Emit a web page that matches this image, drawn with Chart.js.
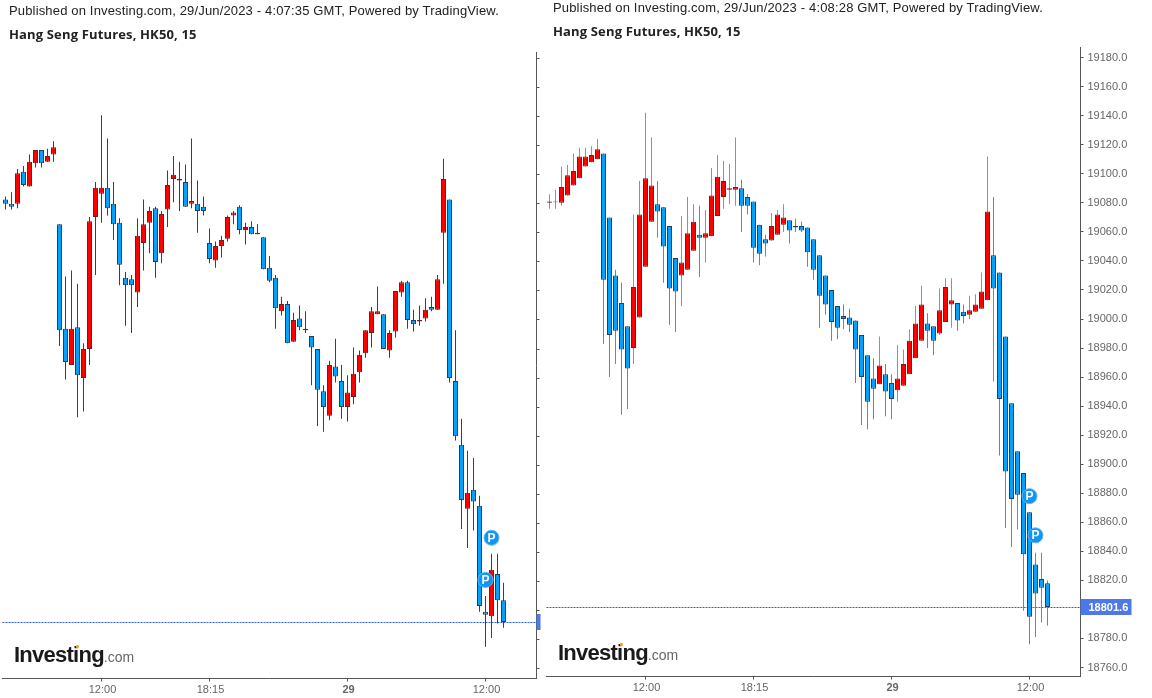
<!DOCTYPE html>
<html><head><meta charset="utf-8">
<style>
html,body{margin:0;padding:0;background:#fff;width:1152px;height:698px;overflow:hidden}
canvas{position:absolute;top:0}
.pub{position:absolute;top:3px;font:13px/16px "Liberation Sans",Arial,sans-serif;color:#222;white-space:nowrap;letter-spacing:.16px}
.ttl{position:absolute;font:bold 13px/18px "Open Sans",sans-serif;color:#222;white-space:nowrap;letter-spacing:.15px}
.logo{position:absolute;font:bold 22px/24px "Liberation Sans",Arial,sans-serif;color:#1a1a1a;letter-spacing:-.75px;white-space:nowrap}
.logo span{font:14px/24px "Liberation Sans",Arial,sans-serif;color:#666;letter-spacing:0}
.dot{position:absolute;width:3px;height:3px;background:#f5a623;border-radius:1px}
</style></head><body>
<canvas id="left" width="545" height="698" style="left:0;width:545px;height:698px"></canvas>
<canvas id="right" width="607" height="698" style="left:545px;width:607px;height:698px"></canvas>
<div class="pub" style="left:9px">Published on Investing.com, 29/Jun/2023 - 4:07:35 GMT, Powered by TradingView.</div>
<div class="pub" style="left:553px;top:0">Published on Investing.com, 29/Jun/2023 - 4:08:28 GMT, Powered by TradingView.</div>
<div class="ttl" style="left:9px;top:25px">Hang Seng Futures, HK50, 15</div>
<div class="ttl" style="left:553px;top:22px">Hang Seng Futures, HK50, 15</div>
<div class="logo" style="left:14px;top:643px">Investing<span>.com</span></div><div class="dot" style="left:76px;top:645px"></div>
<div class="logo" style="left:558px;top:641px">Investing<span>.com</span></div><div class="dot" style="left:620px;top:643px"></div>
<script src="https://cdn.jsdelivr.net/npm/chart.js@4"></script>
<script>
const xLabelIndex=[16,34,57,80];
const xLabelText=['12:00','18:15','29','12:00'];
const slotCount=89;

const leftOpen=[19083,19080,19080,19102,19092,19108,19117,19109,19114,19066,18994,18969,18995,18960,18980,19071,19087,19091,19080,19067,19029,19028,19019,19053,19067,19077,19046,19076,19097,19096,19095,19080,19080,19078,19053,19041,19051,19056,19072,19078,19062,19064,19059,19057,19036,19029,19006,19011,18985,19001,18994,18989,18980,18951,18934,18968,18958,18940,18947,18964,18977,18991,19004,19004,18979,18992,19019,19026,19000,18999,19001,19009,19007,19060,19083,18958,18914,18870,18883,18872,18799,18796,18825,18807];
const leftHigh=[19085,19088,19104,19106,19114,19117,19117,19118,19123,19066,19030,19034,19025,18984,19071,19095,19141,19125,19095,19070,19033,19031,19070,19083,19078,19078,19075,19103,19113,19109,19107,19125,19096,19085,19063,19054,19058,19072,19075,19079,19067,19068,19066,19057,19044,19031,19016,19013,19005,19010,19006,18989,18980,18955,18972,18987,18969,18962,18981,18979,18993,19009,19023,19004,18993,19020,19027,19027,19007,19010,19015,19016,19031,19111,19083,18993,18932,18910,18905,18879,18810,18839,18839,18819];
const leftLow=[19076,19076,19077,19092,19092,19105,19105,19109,19109,18982,18959,18969,18933,18937,18969,19031,19067,19072,19055,19024,18996,18991,19009,19034,19046,19029,19039,19064,19081,19075,19078,19077,19060,19072,19039,19036,19043,19054,19066,19059,19052,19059,19059,19035,19026,18994,19003,18984,18985,18993,18991,18955,18927,18923,18931,18957,18932,18930,18942,18957,18974,18981,19004,18980,18974,18988,19016,18994,18992,18996,18999,19006,19007,19025,18957,18917,18856,18843,18855,18799,18775,18781,18791,18788];
const leftClose=[19080,19078,19101,19093,19109,19117,19108,19113,19119,18993,18971,18994,18962,18980,19068,19091,19091,19077,19066,19038,19024,19024,19058,19066,19075,19040,19073,19093,19100,19097,19078,19082,19075,19075,19042,19051,19055,19071,19074,19062,19064,19059,19060,19035,19027,19008,19011,18984,19000,18995,18993,18981,18952,18940,18969,18961,18940,18950,18963,18976,18993,19006,19006,18980,18991,19020,19026,19000,18997,19000,19007,19007,19028,19097,18960,18920,18876,18881,18875,18803,18797,18828,18807,18792];
const leftMarkerIndex=[81,80];
const leftMarkerValue=[18850,18821];
const leftPrice=18792;

const rightOpen=[19080,19080.5,19080,19085,19092,19097,19105,19108,19110,19114,19070,19030,19011,18995,18980,19001,19036,19067,19079,19077,19064,19042,19030,19034,19047,19058,19056,19057,19071,19084,19089,19089,19090,19084,19081,19065,19055,19054,19058,19065,19068,19064,19064,19063,19055,19044,19030,19020,19009,19002,19001,18999,18989,18975,18959,18955,18962,18956,18951,18954,18962,18973,18985,18997,18995,18990,18998,19010,19011,19005,19003,19005,19007,19013,19044,19032,18988,18942,18909,18894,18867,18831,18821,18818];
const rightHigh=[19086,19089,19105,19106,19114,19118,19118,19119,19124,19114,19070,19034,19025,18995,19072,19095,19142,19125,19095,19077,19064,19042,19071,19084,19079,19078,19075,19104,19113,19109,19107,19125,19096,19086,19081,19065,19058,19073,19075,19079,19068,19069,19067,19063,19055,19044,19030,19020,19009,19010,19007,18999,18989,18975,18973,18988,18969,18962,18982,18979,18993,19009,19023,19004,18995,19021,19028,19028,19011,19010,19016,19017,19032,19112,19084,19032,18988,18942,18909,18894,18867,18839,18839,18820];
const rightLow=[19076,19076,19078,19085,19092,19097,19105,19108,19110,18983,18960,18969,18934,18938,18969,19001,19036,19067,19056,19025,18996,18991,19009,19034,19047,19029,19039,19057,19071,19076,19079,19078,19060,19072,19039,19037,19043,19054,19058,19060,19052,19060,19060,19036,19027,18994,19003,18985,18986,18993,18991,18956,18927,18924,18931,18955,18933,18931,18943,18954,18962,18973,18985,18980,18975,18989,18998,18994,18992,18997,19000,19005,19007,19013,18957,18906,18856,18843,18855,18799,18776,18781,18791,18789];
const rightClose=[19081,19081,19091,19099,19102,19112,19112,19113,19117,19027,18989,18992,18979,18966,19022,19072,19097,19092,19074,19050,19021,19019,19039,19059,19067,19056,19059,19085,19098,19095,19090,19091,19078,19078,19049,19045,19052,19064,19072,19070,19061,19063,19061,19046,19034,19016,19010,18998,18994,19000,18996,18979,18960,18943,18952,18968,18950,18945,18959,18969,18985,18997,19010,18992,18985,19006,19022,19013,18999,19002,19006,19010,19019,19074,19021,18945,18895,18876,18879,18838,18795,18811,18815,18801.6];
const rightMarkerIndex=[80,81];
const rightMarkerValue=[18878,18851];
const rightPrice=18801.6;

const xLabels=Array.from({length:slotCount},()=>'');
xLabelIndex.forEach((p,i)=>{xLabels[p]=xLabelText[i];});

const BLUE='#00a2ff',RED='#ff0000',BLUE_EDGE='#1f3f63',RED_EDGE='#6e1f1f',AXIS='#555555',LINE='#2f5fe0',TAG='#4e78e8';

function draw(id,cfg){
  const idx=cfg.open.map((_,i)=>i);
  const up=i=>cfg.close[i]>=cfg.open[i];
  const markers=xLabels.map(()=>null);
  cfg.mi.forEach((p,i)=>{markers[p]=cfg.mv[i];});
  const overlay={id:'overlay',
    beforeDatasetsDraw(c){
      const y=c.scales.y.getPixelForValue(cfg.price),ctx=c.ctx;
      ctx.save();ctx.strokeStyle=LINE;ctx.lineWidth=1;ctx.setLineDash([2,1]);
      const py=Math.round(y)+.5;
      ctx.beginPath();ctx.moveTo(c.chartArea.left,py);ctx.lineTo(c.chartArea.right,py);ctx.stroke();ctx.restore();
    },
    afterDatasetsDraw(c){
      const ctx=c.ctx,meta=c.getDatasetMeta(0);
      ctx.save();ctx.fillStyle='#fff';ctx.font='bold 12px "Liberation Sans",Arial,sans-serif';ctx.textAlign='center';ctx.textBaseline='middle';
      cfg.mi.forEach(p=>{const e=meta.data[p];ctx.fillText('P',e.x,e.y+.5);});
      ctx.font='bold 11px "Liberation Sans",Arial,sans-serif';
      const py=Math.round(c.scales.y.getPixelForValue(cfg.price));
      const x0=c.chartArea.right;
      ctx.fillStyle=TAG;ctx.fillRect(x0,py-8,cfg.tagWidth,16);
      if(cfg.labels){ctx.fillStyle='#fff';ctx.textAlign='left';ctx.fillText(cfg.price.toFixed(1),x0+8,py+.5);}
      ctx.restore();
    }};
  new Chart(document.getElementById(id),{
    type:'bar',
    plugins:[overlay],
    data:{labels:xLabels,datasets:[
      {type:'line',data:markers,showLine:false,clip:false,pointRadius:7.5,pointHoverRadius:7.5,pointBackgroundColor:'#0d96f2',pointBorderColor:'#5fb6f5',pointBorderWidth:1,order:0},
      {data:idx.map(i=>[Math.min(cfg.open[i],cfg.close[i]),Math.max(cfg.open[i],cfg.close[i])]),
       backgroundColor:idx.map(i=>up(i)?RED:BLUE),borderColor:idx.map(i=>up(i)?RED_EDGE:BLUE_EDGE),
       borderWidth:1,borderSkipped:false,inflateAmount:0,barThickness:5,grouped:false,order:1},
      {data:idx.map(i=>[cfg.low[i],cfg.high[i]]),
       backgroundColor:idx.map(i=>cfg.wick(up(i))),borderWidth:0,inflateAmount:0,barThickness:1,grouped:false,order:2}
    ]},
    options:{responsive:false,animation:false,events:[],
      layout:{autoPadding:false,padding:{left:cfg.padLeft,top:cfg.top,right:0,bottom:0}},
      plugins:{legend:{display:false},tooltip:{enabled:false},title:{display:false}},
      scales:{
        x:{type:'category',offset:true,
          afterBuildTicks(s){s.ticks=s.ticks.filter(t=>xLabels[t.value]);},
          afterFit(s){s.height=cfg.bottomHeight;s.paddingLeft=0;s.paddingRight=0;},
          border:{display:true,color:AXIS,width:1},
          grid:{display:true,offset:false,drawOnChartArea:false,drawTicks:true,tickLength:3,color:AXIS},
          ticks:{autoSkip:false,maxRotation:0,minRotation:0,padding:cfg.xPad,labelOffset:1,color:'#666',
            font:ctx=>({family:'"Liberation Sans",Arial,sans-serif',size:11,weight:ctx.tick&&ctx.tick.label==='29'?'bold':'normal'})}
        },
        y:{type:'linear',position:'right',min:cfg.min,max:cfg.max,
          afterFit(s){s.width=cfg.axisWidth;s.paddingTop=0;s.paddingBottom=0;},
          border:{display:true,color:AXIS,width:1},
          grid:{display:true,drawOnChartArea:false,drawTicks:true,tickLength:3,color:AXIS},
          ticks:{stepSize:20,includeBounds:false,display:cfg.labels,padding:4,color:'#666',autoSkip:false,
            font:{family:'"Liberation Sans",Arial,sans-serif',size:11},
            callback:v=>v.toFixed(1)}
        }
      }
    }
  });
}
draw('left',{open:leftOpen,high:leftHigh,low:leftLow,close:leftClose,mi:leftMarkerIndex,mv:leftMarkerValue,price:leftPrice,
  wick:()=>'#1f5138',padLeft:2.5,top:52.5,bottomHeight:19.5,axisWidth:8.5,min:18753.1,max:19184.2,labels:false,tagWidth:4,xPad:2});
draw('right',{open:rightOpen,high:rightHigh,low:rightLow,close:rightClose,mi:rightMarkerIndex,mv:rightMarkerValue,price:rightPrice,
  wick:u=>u?'#5bb08a':'#ef5060',padLeft:1.5,top:47.5,bottomHeight:21.5,axisWidth:71.5,min:18753.8,max:19187,labels:true,tagWidth:51,xPad:2});
</script>
</body></html>
